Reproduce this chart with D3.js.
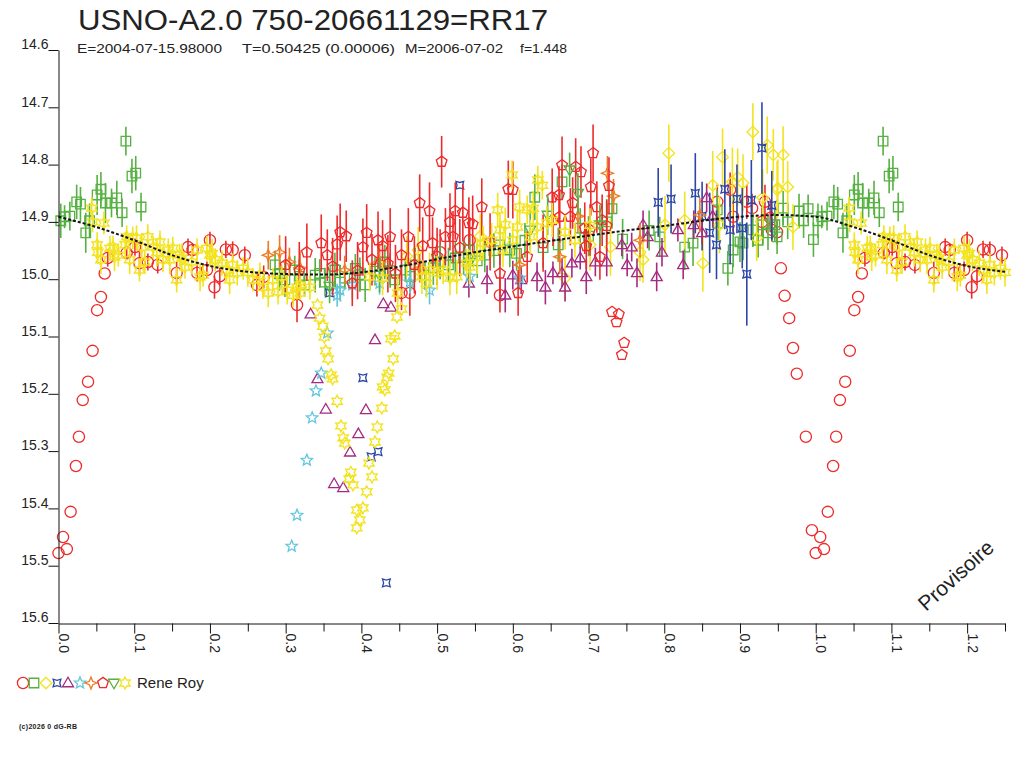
<!DOCTYPE html>
<html><head><meta charset="utf-8">
<script src="https://cdn.jsdelivr.net/npm/d3@7"></script>
<style>
body{margin:0;background:#fff;}
text{font-family:"Liberation Sans",Arial,sans-serif;}
</style></head>
<body><svg id="c" width="1024" height="768"></svg>
<script>
// ---- DATA: [phase, magnitude, error] ----
const titleText = "USNO-A2.0 750-20661129=RR17";
const subTexts = ["E=2004-07-15.98000", "T=0.50425 (0.00006)", "M=2006-07-02", "f=1.448"];
const observer = "Rene Roy";
const copyright = "(c)2026 0 dG-RB";
const stamp = "Provisoire";
const yTicks = [14.6,14.7,14.8,14.9,15.0,15.1,15.2,15.3,15.4,15.5,15.6];
const xMajor = [0,0.1,0.2,0.3,0.4,0.5,0.6,0.7,0.8,0.9,1.0,1.1,1.2];
const xMinor = [0.05,0.15,0.25,0.35,0.45,0.55,0.65,0.75,0.85,0.95,1.05,1.15,1.25];

const modelPhase = [0,0.05,0.10,0.15,0.20,0.25,0.30,0.35,0.40,0.45,0.50,0.55,0.60,0.65,0.70,0.75,0.80,0.85,0.90,0.95,1.00];
const modelMag   = [14.891,14.909,14.932,14.958,14.977,14.987,14.991,14.992,14.988,14.978,14.965,14.953,14.943,14.933,14.924,14.915,14.907,14.898,14.891,14.888,14.891];

const redCircles = [
[0.954,14.981,0],[0.959,15.029,0],[0.965,15.068,0],[0.970,15.120,0],[0.975,15.165,0],[0.987,15.275,0],[0.995,15.438,0],
[0.000,15.478,0],[0.006,15.450,0],[0.011,15.471,0],[0.016,15.406,0],[0.023,15.326,0],[0.027,15.275,0],[0.032,15.211,0],
[0.039,15.179,0],[0.045,15.125,0],[0.051,15.054,0],[0.056,15.031,0],[0.061,14.990,0],
[0.065,14.963,0.015],[0.090,14.954,0.012],[0.101,14.944,0.015],[0.107,14.972,0.02],[0.118,14.970,0.015],[0.131,14.975,0.015],[0.156,14.989,0.02],
[0.171,14.944,0.015],[0.177,14.949,0.012],[0.183,14.989,0.015],[0.196,14.984,0.015],[0.200,14.932,0.015],[0.206,15.014,0.02],[0.213,14.995,0.015],
[0.221,14.948,0.015],[0.230,14.949,0.015],[0.246,14.958,0.015],[0.262,15.010,0.02],[0.271,14.996,0.02],
[0.315,15.045,0.03],[0.453,15.024,0.03],[0.464,15.024,0.04],[0.504,14.953,0.04],[0.543,14.932,0.04],[0.583,15.028,0.03],
[0.870,14.865,0.03],[0.887,14.844,0.03],[0.891,14.891,0.03],[0.909,14.865,0.03],[0.916,14.876,0.025],[0.929,14.900,0.025],
[0.933,14.865,0.03],[0.940,14.893,0.025],[0.942,14.914,0.02],[0.949,14.918,0.02]
];
const greenSquares = [
[0.003,14.898,0.03],[0.008,14.891,0.02],[0.015,14.890,0.025],[0.024,14.865,0.03],[0.029,14.869,0.03],[0.036,14.919,0.035],[0.041,14.898,0.03],
[0.051,14.853,0.035],[0.056,14.843,0.03],[0.062,14.867,0.035],[0.070,14.867,0.025],[0.077,14.858,0.03],[0.084,14.884,0.025],[0.089,14.759,0.025],
[0.097,14.820,0.03],[0.102,14.815,0.03],[0.109,14.874,0.025],
[0.286,14.975,0.025],[0.292,14.990,0.03],[0.299,15.001,0.03],[0.312,14.984,0.025],[0.318,14.995,0.03],[0.325,15.010,0.02],[0.339,14.993,0.03],
[0.345,14.990,0.025],[0.352,15.005,0.025],[0.365,14.984,0.03],[0.372,15.005,0.03],[0.378,14.998,0.02],[0.392,14.981,0.025],[0.398,14.992,0.03],
[0.405,15.010,0.03],[0.418,14.986,0.025],[0.431,14.970,0.03],[0.438,14.985,0.03],[0.444,15.001,0.025],[0.458,14.984,0.02],[0.465,14.995,0.025],
[0.471,14.975,0.03],[0.484,14.993,0.025],[0.495,14.980,0.03],[0.504,14.970,0.03],[0.515,14.975,0.03],[0.524,14.963,0.03],[0.535,14.962,0.03],
[0.543,14.949,0.025],[0.553,14.968,0.03],[0.563,14.958,0.03],[0.575,14.950,0.03],[0.583,14.940,0.035],[0.596,14.949,0.03],[0.605,14.955,0.03],
[0.616,14.932,0.03],[0.629,14.857,0.04],[0.640,14.945,0.035],[0.660,14.940,0.03],[0.665,14.830,0.03],[0.689,14.911,0.035],[0.700,14.925,0.035],
[0.724,14.900,0.04],[0.731,14.877,0.035],[0.745,14.930,0.035],[0.780,14.915,0.035],
[0.794,14.926,0.035],[0.827,14.944,0.04],[0.838,14.937,0.04],[0.870,14.879,0.035],[0.871,14.902,0.03],[0.884,14.981,0.03],[0.891,14.949,0.03],
[0.900,14.935,0.035],[0.904,14.937,0.03],[0.917,14.914,0.03],[0.924,14.932,0.03],[0.930,14.905,0.035],[0.937,14.919,0.03],[0.946,14.905,0.03],
[0.949,14.926,0.03],[0.957,14.876,0.03],[0.963,14.900,0.03],[0.978,14.881,0.03],[0.984,14.898,0.03],[0.990,14.877,0.025],[0.997,14.931,0.03]
];
const yellowDiamonds = [
[0.460,14.960,0.035],[0.475,14.949,0.04],[0.557,14.925,0.04],[0.669,14.998,0.04],[0.702,14.940,0.045],[0.729,14.944,0.05],[0.768,14.953,0.05],
[0.772,14.966,0.04],[0.801,14.905,0.05],[0.806,14.780,0.05],[0.827,14.897,0.05],[0.851,14.972,0.05],[0.864,14.836,0.06],[0.873,14.905,0.05],
[0.877,14.787,0.05],[0.890,14.830,0.06],[0.897,14.822,0.05],[0.904,14.832,0.05],[0.917,14.743,0.05],[0.922,14.928,0.04],[0.930,14.858,0.05],
[0.936,14.766,0.05],[0.944,14.783,0.045],[0.949,14.844,0.05],[0.950,14.841,0.05],[0.957,14.783,0.05],[0.963,14.839,0.045],[0.970,14.909,0.04]
];
const blueStars4 = [
[0.358,15.024,0],[0.402,15.172,0],[0.413,15.310,0],[0.422,15.301,0],[0.433,15.530,0],[0.530,14.836,0],
[0.792,14.866,0.06],[0.809,14.860,0.06],[0.841,14.850,0.07],[0.850,14.890,0.06],[0.860,14.919,0.07],[0.869,14.940,0.06],[0.880,14.843,0.07],
[0.887,14.914,0.06],[0.896,14.860,0.06],[0.903,14.911,0.07],[0.909,14.991,0.09],[0.915,14.862,0.07],[0.929,14.771,0.08],[0.942,14.871,0.06]
];
const purpleTriangles = [
[0.333,15.061,0],[0.342,15.174,0],[0.353,15.227,0],[0.364,15.357,0],[0.376,15.364,0],[0.385,15.302,0],[0.396,15.270,0],
[0.406,15.228,0],[0.418,15.106,0],[0.429,15.043,0],[0.439,15.049,0],
[0.542,15.007,0.025],[0.566,15.001,0.025],[0.590,15.028,0.03],[0.600,14.993,0.025],[0.611,15.001,0.025],[0.632,14.996,0.025],[0.643,15.014,0.03],
[0.653,14.989,0.02],[0.665,14.989,0.025],[0.669,15.014,0.025],[0.678,14.972,0.025],[0.689,14.963,0.02],[0.697,14.996,0.03],[0.709,14.970,0.025],
[0.724,14.970,0.025],[0.744,14.940,0.02],[0.751,14.975,0.02],[0.757,14.944,0.025],[0.764,14.989,0.025],[0.772,14.905,0.025],[0.778,14.926,0.02],
[0.790,14.996,0.025],[0.797,14.953,0.025],[0.818,14.914,0.02],[0.825,14.975,0.025],[0.839,14.905,0.025],[0.850,14.919,0.02],[0.856,14.858,0.025],[0.864,14.890,0.02]
];
const cyanStars = [
[0.355,15.094,0],[0.347,15.164,0],[0.340,15.195,0],[0.335,15.242,0],[0.328,15.316,0],[0.315,15.412,0],[0.308,15.466,0],
[0.368,15.028,0.02],[0.372,15.019,0.02],[0.388,15.010,0.025],[0.424,15.007,0.02],[0.464,15.005,0.02],[0.490,15.019,0.025],[0.543,14.995,0.02],[0.609,14.998,0.02]
];
const orangeStars4 = [
[0.277,14.958,0.025],[0.292,14.953,0.03],[0.305,14.970,0.025],[0.319,14.980,0.03],[0.378,14.984,0.025],[0.424,14.970,0.03],[0.477,14.981,0.025],
[0.609,14.975,0.03],[0.662,14.961,0.03],[0.686,14.890,0.03],[0.725,14.815,0.03],[0.733,14.855,0.03],[0.768,14.932,0.03],[0.847,14.888,0.03]
];
const redPentagons = [
[0.300,14.975,0.05],[0.318,14.985,0.05],[0.328,14.953,0.05],[0.347,14.937,0.05],[0.355,14.958,0.045],[0.362,14.978,0.05],[0.368,14.939,0.05],
[0.372,14.918,0.05],[0.380,14.925,0.045],[0.388,15.007,0.04],[0.395,14.985,0.05],
[0.402,14.944,0.05],[0.407,14.919,0.05],[0.414,14.966,0.045],[0.422,14.932,0.05],[0.428,14.942,0.045],[0.435,14.973,0.05],[0.438,14.926,0.05],
[0.445,14.990,0.05],[0.453,14.958,0.045],[0.462,14.926,0.05],[0.470,14.975,0.05],[0.477,14.867,0.05],[0.481,14.942,0.05],[0.490,14.881,0.05],
[0.494,14.937,0.045],[0.500,14.960,0.05],[0.506,14.795,0.045],
[0.511,14.926,0.05],[0.517,14.900,0.05],[0.521,14.926,0.045],[0.524,14.881,0.05],[0.530,14.945,0.05],[0.534,14.884,0.05],[0.542,14.902,0.045],
[0.547,14.904,0.05],[0.559,14.874,0.05],[0.570,14.935,0.05],[0.583,14.990,0.04],[0.594,14.843,0.05],[0.600,14.844,0.05],[0.607,15.024,0.04],
[0.619,14.961,0.045],[0.640,14.937,0.05],
[0.652,14.857,0.05],[0.653,14.897,0.045],[0.661,14.853,0.05],[0.662,14.891,0.045],[0.665,14.801,0.05],[0.676,14.891,0.05],[0.679,14.867,0.045],
[0.683,14.804,0.05],[0.690,14.813,0.045],[0.695,14.911,0.045],[0.697,14.942,0.04],[0.702,14.914,0.045],[0.703,14.839,0.05],[0.706,14.780,0.05],
[0.711,14.874,0.045],[0.715,14.961,0.04],[0.718,14.897,0.045],[0.724,14.907,0.045],[0.727,14.837,0.05],
[0.731,15.057,0],[0.740,15.061,0],[0.737,15.075,0],[0.747,15.111,0],[0.744,15.132,0]
];
const greenTriDown = [
[0.358,15.012,0.03],[0.424,14.993,0.03],[0.543,14.970,0.03],[0.623,14.914,0.035],[0.646,14.888,0.035],[0.675,14.809,0.03],[0.686,14.850,0.035],[0.715,14.905,0.035]
];
const yellowStars6 = [
[0.044,14.876,0.02],[0.045,14.900,0.018],[0.051,14.940,0.022],[0.052,14.953,0.02],[0.056,14.966,0.025],[0.060,14.902,0.02],[0.068,14.946,0.022],
[0.072,14.944,0.02],[0.074,14.961,0.025],[0.079,14.958,0.02],[0.088,14.940,0.022],[0.090,14.926,0.02],[0.094,14.966,0.025],[0.098,14.928,0.02],
[0.103,14.928,0.022],[0.107,14.984,0.02],[0.110,14.944,0.025],[0.114,14.970,0.02],[0.118,14.926,0.022],[0.125,14.944,0.02],[0.130,14.953,0.025],
[0.134,14.935,0.02],[0.138,14.966,0.022],[0.145,14.949,0.02],[0.147,14.966,0.025],[0.151,14.946,0.02],[0.156,15.001,0.022],[0.160,14.958,0.02],
[0.163,14.963,0.025],[0.167,14.979,0.02],[0.176,14.970,0.022],[0.183,14.949,0.02],[0.187,14.996,0.025],[0.191,14.993,0.02],[0.196,14.946,0.022],
[0.200,14.958,0.02],[0.203,14.955,0.025],[0.207,14.966,0.02],[0.216,14.972,0.022],[0.222,14.984,0.02],[0.226,15.001,0.025],[0.230,14.975,0.02],
[0.236,14.989,0.022],[0.244,14.981,0.02],[0.250,14.988,0.025],[0.257,15.001,0.02],[0.266,14.993,0.022],[0.270,15.014,0.02],[0.277,15.024,0.025],
[0.283,15.001,0.02],[0.290,15.022,0.022],[0.295,14.996,0.02],[0.302,15.019,0.025],[0.310,15.028,0.02],[0.315,15.014,0.022],[0.319,15.010,0.02],[0.332,15.014,0.022],
[0.319,15.024,0],[0.342,15.045,0],[0.345,15.068,0],[0.349,15.082,0],[0.351,15.101,0],[0.353,15.125,0],[0.356,15.139,0],
[0.360,15.167,0],[0.362,15.174,0],[0.368,15.213,0],[0.373,15.256,0],[0.376,15.277,0],[0.378,15.286,0],[0.386,15.337,0],
[0.384,15.349,0],[0.389,15.359,0],[0.394,15.403,0],[0.402,15.399,0],[0.398,15.420,0],[0.394,15.434,0],[0.407,15.371,0],
[0.414,15.345,0],[0.410,15.321,0],[0.418,15.284,0],[0.421,15.258,0],[0.427,15.225,0],[0.431,15.193,0],[0.428,15.188,0],
[0.434,15.171,0],[0.436,15.164,0],[0.442,15.139,0],[0.439,15.104,0],[0.444,15.099,0],[0.447,15.066,0],[0.453,15.052,0],
[0.411,14.996,0.025],[0.428,14.998,0.03],[0.448,15.024,0.03],[0.480,14.996,0.03],[0.486,15.007,0.025],[0.490,14.984,0.03],[0.500,14.989,0.03],
[0.508,14.984,0.025],[0.517,14.998,0.03],[0.526,14.996,0.03],[0.539,14.972,0.025],[0.543,14.979,0.03],[0.553,14.961,0.03],[0.561,14.937,0.03],
[0.572,14.932,0.03],[0.580,14.879,0.03],[0.583,14.914,0.03],[0.587,14.949,0.03],[0.590,14.905,0.03],[0.599,14.818,0.025],[0.600,14.932,0.03],
[0.606,14.909,0.03],[0.609,14.874,0.03],[0.619,14.879,0.025],[0.623,14.926,0.03],[0.627,14.876,0.03],[0.632,14.909,0.03],[0.633,14.827,0.025],
[0.639,14.836,0.025],[0.645,14.902,0.03],[0.652,14.897,0.03],[0.669,14.918,0.03],[0.682,14.932,0.03],[0.702,14.906,0.03]
];

// ---- SETUP ----
const svg = d3.select("#c");
const X = d3.scaleLinear().domain([0,1.25]).range([58.5,1005]);
const Y = d3.scaleLinear().domain([14.6,15.6]).range([50,623]);

function poly(ctx, pts){ pts.forEach((p,i)=> i?ctx.lineTo(p[0],p[1]):ctx.moveTo(p[0],p[1])); ctx.closePath(); }
function starPts(n, ro, ri, rot){ const a=[]; for(let i=0;i<2*n;i++){const r=i%2?ri:ro; const t=rot+Math.PI*i/n; a.push([r*Math.sin(t),-r*Math.cos(t)]);} return a; }
const symCircle = {draw(c,r){c.moveTo(r,0);c.arc(0,0,r,0,2*Math.PI);}};
const symSquare = {draw(c,r){const s=r*0.85;poly(c,[[-s,-s],[s,-s],[s,s],[-s,s]]);}};
const symDiamond = {draw(c,r){poly(c,[[0,-r],[r,0],[0,r],[-r,0]]);}};
const symStar4c = {draw(c,r){poly(c,starPts(4,r,r*0.5,Math.PI/4));}};
const symTri = {draw(c,r){poly(c,[[0,-r],[r*0.95,r*0.65],[-r*0.95,r*0.65]]);}};
const symStar5 = {draw(c,r){poly(c,starPts(5,r,r*0.45,0));}};
const symStar4 = {draw(c,r){poly(c,starPts(4,r,r*0.4,0));}};
const symPent = {draw(c,r){const a=[];for(let i=0;i<5;i++){const t=2*Math.PI*i/5;a.push([r*Math.sin(t),-r*Math.cos(t)]);}poly(c,a);}};
const symTriDown = {draw(c,r){poly(c,[[0,r],[r*0.95,-r*0.65],[-r*0.95,-r*0.65]]);}};
const symStar6 = {draw(c,r){poly(c,starPts(6,r,r*0.55,0));}};

const series = [
  {data: redCircles,     type: symCircle,  r: 5.6, color: "#ee2a2a"},
  {data: greenSquares,   type: symSquare,  r: 5.6, color: "#55b140"},
  {data: yellowDiamonds, type: symDiamond, r: 5.8, color: "#f3e31c"},
  {data: blueStars4,     type: symStar4c,  r: 5.5, color: "#2c46a6"},
  {data: purpleTriangles,type: symTri,     r: 5.8, color: "#a52a80"},
  {data: cyanStars,      type: symStar5,   r: 6,   color: "#62c6df"},
  {data: orangeStars4,   type: symStar4,   r: 6,   color: "#f07a22"},
  {data: redPentagons,   type: symPent,    r: 5.6, color: "#ee2a2a"},
  {data: greenTriDown,   type: symTriDown, r: 5.8, color: "#55b140"},
  {data: yellowStars6,   type: symStar6,   r: 6,   color: "#f3e31c"}
];

function folded(arr){
  const out=[];
  arr.forEach(d=>{ out.push(d); if(d[0]+1<=1.25) out.push([d[0]+1,d[1],d[2]]); });
  return out;
}

const plot = svg.append("g");
series.forEach(s=>{
  const pts = folded(s.data);
  const g = plot.append("g");
  g.selectAll("line").data(pts.filter(d=>d[2]>0)).enter().append("line")
    .attr("x1",d=>X(d[0])).attr("x2",d=>X(d[0]))
    .attr("y1",d=>Y(d[1]-d[2])).attr("y2",d=>Y(d[1]+d[2]))
    .attr("stroke",s.color).attr("stroke-width",1.6);
  g.selectAll("path").data(pts).enter().append("path")
    .attr("d", d3.symbol().type(s.type).size(s.r))
    .attr("transform",d=>`translate(${X(d[0])},${Y(d[1])})`)
    .attr("fill","none").attr("stroke",s.color).attr("stroke-width",1.3);
});

// model curve
const modelPts = modelPhase.map((p,i)=>[p,modelMag[i]]);
const modelAll = modelPts.concat(modelPts.filter(d=>d[0]>0 && d[0]<=0.25).map(d=>[d[0]+1,d[1]]));
svg.append("path").datum(modelAll)
  .attr("d", d3.line().x(d=>X(d[0])).y(d=>Y(d[1])).curve(d3.curveMonotoneX))
  .attr("fill","none").attr("stroke","#151515").attr("stroke-width",2)
  .attr("stroke-dasharray","3,2");

// axes
const yAxis = svg.append("g").attr("transform","translate(58.5,0)")
  .call(d3.axisLeft(Y).tickValues(yTicks).tickSize(10).tickSizeOuter(0).tickPadding(0).tickFormat(d3.format(".1f")));
yAxis.selectAll("text").attr("dy","-0.08em").style("font-size","14px").attr("fill","#222");
const xAxis = svg.append("g").attr("transform","translate(0,623.5)")
  .call(d3.axisBottom(X).tickValues(xMajor).tickSize(10).tickSizeOuter(0).tickFormat(d3.format(".1f")));
xAxis.selectAll("text").attr("transform","rotate(90)").attr("x",10).attr("y",0).attr("dy","0")
  .style("text-anchor","start").style("font-size","14px").attr("fill","#222");
svg.append("g").attr("transform","translate(0,623.5)")
  .call(d3.axisBottom(X).tickValues(xMinor).tickSize(8).tickSizeOuter(0).tickFormat(""))
  .select(".domain").remove();
svg.selectAll(".domain, .tick line").attr("stroke","#111");
svg.selectAll(".tick text").attr("font-family","Liberation Sans, Arial, sans-serif");

// titles
svg.append("text").attr("x",78).attr("y",30).attr("font-size","30px").attr("fill","#222")
  .attr("textLength",470).attr("lengthAdjust","spacingAndGlyphs").text(titleText);
const subX = [77,242,405,520];
const subW = [145,153,98,47];
subTexts.forEach((t,i)=> svg.append("text").attr("x",subX[i]).attr("y",53).attr("font-size","13.5px").attr("fill","#222")
  .attr("textLength",subW[i]).attr("lengthAdjust","spacingAndGlyphs").text(t));

// legend
const legX = [23,34,46,57,68,80,91,103,114,125];
series.forEach((s,i)=>{
  svg.append("path").attr("d", d3.symbol().type(s.type).size(s.r))
    .attr("transform",`translate(${legX[i]},683)`)
    .attr("fill","none").attr("stroke",s.color).attr("stroke-width",1.3);
});
svg.append("text").attr("x",137).attr("y",688).attr("font-size","15px").attr("fill","#222").text(observer);
svg.append("text").attr("x",19).attr("y",729).attr("font-size","7px").attr("font-weight","bold").attr("fill","#222")
  .attr("textLength",58).text(copyright);

// stamp
svg.append("text").attr("transform","translate(926,612) rotate(-42)")
  .attr("font-size","21px").attr("fill","#222").text(stamp);
</script></body></html>
